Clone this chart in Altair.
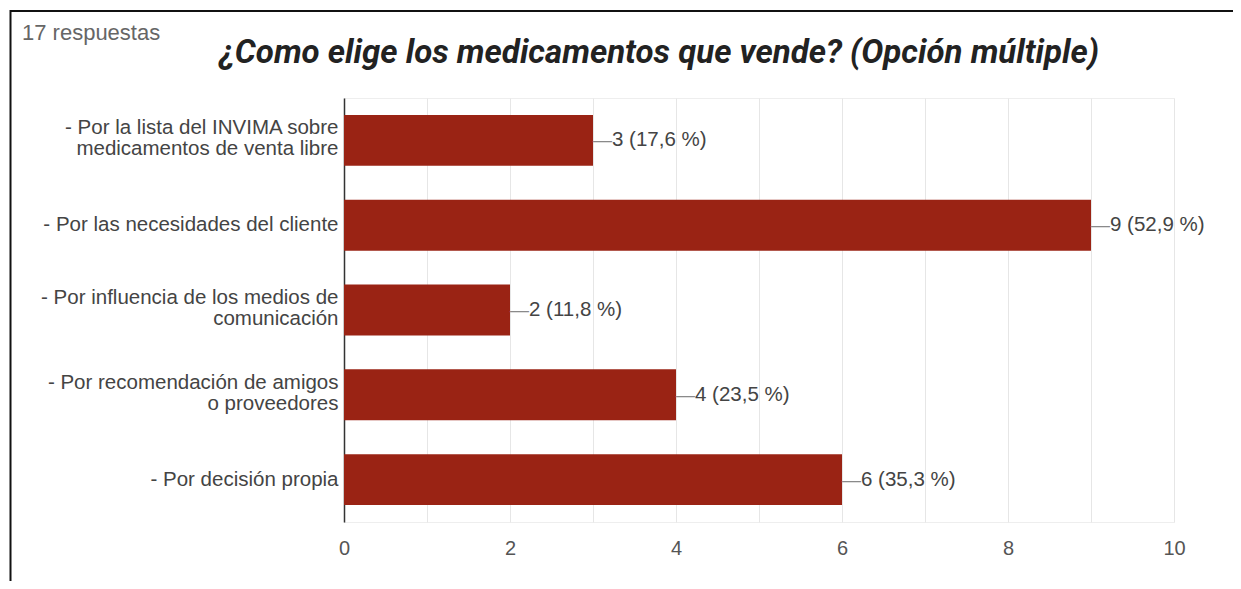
import altair as alt
import pandas as pd

# ---- data ----
categories = [
    "- Por la lista del INVIMA sobre|medicamentos de venta libre",
    "- Por las necesidades del cliente",
    "- Por influencia de los medios de|comunicación",
    "- Por recomendación de amigos|o proveedores",
    "- Por decisión propia",
]
counts = [3, 9, 2, 4, 6]
percents = ["17,6 %", "52,9 %", "11,8 %", "23,5 %", "35,3 %"]
x_ticks = list(range(0, 11))
total_label = "17 respuestas"
title_text = "¿Como elige los medicamentos que vende? (Opción múltiple)"

df = pd.DataFrame({"cat": categories, "n": counts, "pct": percents})
df["label"] = [f"{n} ({p})" for n, p in zip(counts, percents)]

LABEL_FONT = "Liberation Sans"
BAR_COLOR = "#9a2314"

y_enc = alt.Y(
    "cat:N",
    sort=None,
    title=None,
    scale=alt.Scale(paddingInner=0.4, paddingOuter=0.2),
    axis=alt.Axis(
        labelExpr="split(datum.label, '|')",
        labelFont=LABEL_FONT,
        labelFontSize=20.5,
        labelColor="#444444",
        labelLimit=400,
        labelPadding=6,
        labelLineHeight=21,
        labelOffset={
            "condition": {"test": "indexof(datum.value, '|') >= 0", "value": -12},
            "value": 0,
        },
        ticks=False,
        domain=True,
        domainColor="#333333",
        domainWidth=1.5,
        grid=False,
    ),
)

x_enc = alt.X(
    "n:Q",
    title=None,
    scale=alt.Scale(domain=[0, 10], nice=False),
    axis=alt.Axis(
        values=x_ticks,
        format="d",
        labelExpr="datum.value % 2 == 0 ? datum.label : ''",
        labelFont=LABEL_FONT,
        labelFontSize=20,
        labelColor="#555555",
        labelPadding=16,
        labelFlush=False,
        ticks=False,
        domain=False,
        grid=True,
        gridColor="#e6e6e6",
        gridWidth=1,
    ),
)

base = alt.Chart(df).encode(y=y_enc)

bars = base.mark_bar(color=BAR_COLOR).encode(x=x_enc)

dash = base.mark_text(
    align="left", baseline="middle", text="—", font="Liberation Sans",
    fontSize=19, color="#8a8a8a", dx=0,
).encode(x=alt.X("n:Q"))

values = base.mark_text(
    align="left", baseline="middle", font=LABEL_FONT, fontSize=20.5,
    color="#444444", dx=19,
).encode(x=alt.X("n:Q"), text="label:N")

one = pd.DataFrame({"k": [0]})

title = alt.Chart(one).mark_text(
    text=title_text, font="Roboto", fontSize=33, fontWeight="bold",
    fontStyle="italic", color="#222222", align="center", baseline="alphabetic",
).encode(x=alt.value(315), y=alt.value(-35))

resp = alt.Chart(one).mark_text(
    text=total_label, font=LABEL_FONT, fontSize=22, color="#666666",
    align="left", baseline="alphabetic",
).encode(x=alt.value(-322), y=alt.value(-58))

top_border = alt.Chart(one).mark_rule(color="#111111", strokeWidth=2).encode(
    x=alt.value(-334), x2=alt.value(900), y=alt.value(-87)
)
left_border = alt.Chart(one).mark_rule(color="#111111", strokeWidth=2).encode(
    x=alt.value(-333.5), y=alt.value(-88), y2=alt.value(500)
)

chart = (
    alt.layer(bars, dash, values, title, resp, top_border, left_border)
    .properties(
        width=830,
        height=424,
        padding={"left": 336, "top": 90, "right": 59, "bottom": 59},
        autosize=alt.AutoSizeParams(type="none"),
        background="white",
    )
    .configure_view(stroke="#eeeeee")
)

chart.save("out.html", embed_options={"renderer": "svg", "actions": False})
